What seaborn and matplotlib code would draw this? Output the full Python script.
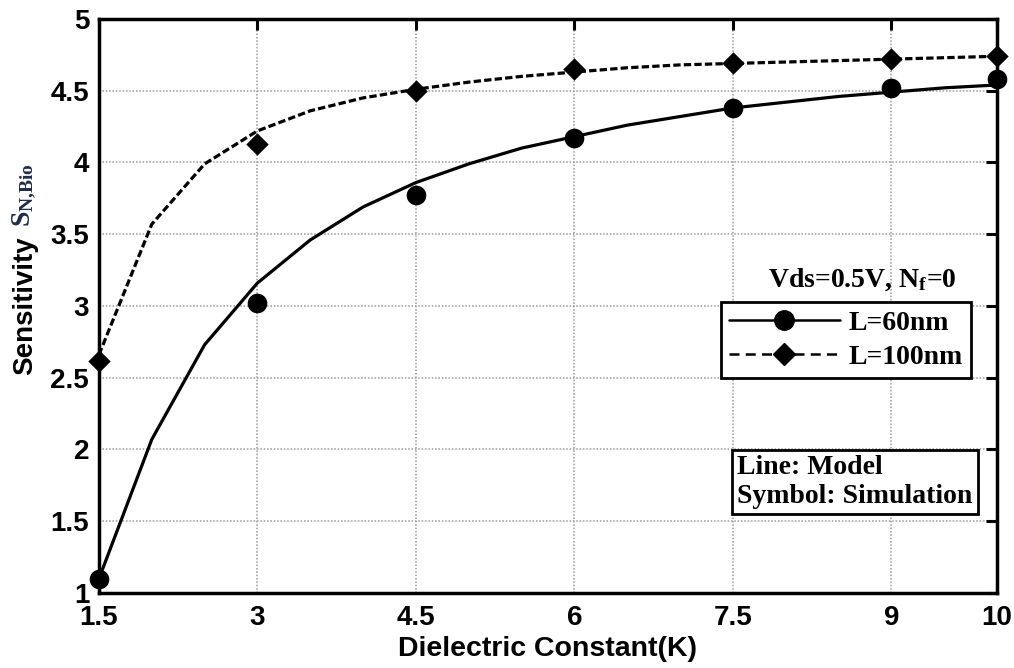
import numpy as np
import pandas as pd
import matplotlib
matplotlib.use("Agg")
import matplotlib.pyplot as plt
from matplotlib.lines import Line2D
import seaborn as sns

# model curves (lines)
k_model = [1.5, 2, 2.5, 3, 3.5, 4, 4.5, 5, 5.5, 6, 6.5, 7, 7.5, 8, 8.5, 9, 9.5, 10]
model_60 = [1.10, 2.07, 2.73, 3.16, 3.46, 3.69, 3.86, 3.99, 4.10, 4.18,
            4.26, 4.32, 4.38, 4.42, 4.46, 4.49, 4.52, 4.54]
model_100 = [2.66, 3.57, 3.99, 4.22, 4.36, 4.45, 4.51, 4.56, 4.60, 4.63,
             4.66, 4.68, 4.69, 4.70, 4.71, 4.72, 4.73, 4.74]

# simulation points (symbols)
k_sim = [1.5, 3, 4.5, 6, 7.5, 9, 10]
sim_60 = [1.10, 3.02, 3.77, 4.17, 4.38, 4.52, 4.58]
sim_100 = [2.62, 4.13, 4.50, 4.65, 4.69, 4.72, 4.74]

xticks = [1.5, 3, 4.5, 6, 7.5, 9, 10]
xtick_labels = ["1.5", "3", "4.5", "6", "7.5", "9", "10"]
yticks = [1, 1.5, 2, 2.5, 3, 3.5, 4, 4.5, 5]
ytick_labels = ["1", "1.5", "2", "2.5", "3", "3.5", "4", "4.5", "5"]

sns.set_style("white")
plt.rcParams["font.family"] = ["Liberation Sans", "DejaVu Sans"]
plt.rcParams["font.weight"] = "bold"
plt.rcParams["text.color"] = "black"
plt.rcParams["axes.labelcolor"] = "black"
plt.rcParams["xtick.color"] = "black"
plt.rcParams["ytick.color"] = "black"
plt.rcParams["mathtext.fontset"] = "custom"
plt.rcParams["mathtext.rm"] = "Liberation Serif"
plt.rcParams["mathtext.bf"] = "Liberation Serif:bold"

df_model = pd.DataFrame({"K": k_model, "L60": model_60, "L100": model_100})
df_sim = pd.DataFrame({"K": k_sim, "L60": sim_60, "L100": sim_100})

fig = plt.figure(figsize=(10.14, 6.68), dpi=100)
ax = fig.add_axes([0.0976, 0.1123, 0.8856, 0.8593])

# model lines
sns.lineplot(data=df_model, x="K", y="L60", ax=ax, color="black", lw=2.3)
sns.lineplot(data=df_model, x="K", y="L100", ax=ax, color="black", lw=2.3)
ax.lines[-1].set_dashes((2.3, 1.0))
# simulation symbols
sns.scatterplot(data=df_sim, x="K", y="L60", ax=ax, color="black", marker="o",
                s=200, edgecolor="black", linewidth=0, zorder=5, clip_on=False)
sns.scatterplot(data=df_sim, x="K", y="L100", ax=ax, color="black", marker="D",
                s=130, edgecolor="black", linewidth=0, zorder=5, clip_on=False)

ax.set_xlim(1.5, 10)
ax.set_ylim(1, 5)
ax.set_xticks(xticks)
ax.set_xticklabels(xtick_labels)
ax.set_yticks(yticks)
ax.set_yticklabels(ytick_labels)
ax.tick_params(direction="in", length=8, width=2.2, labelsize=20,
               top=True, right=True)
ax.tick_params(axis="x", pad=9)
ax.tick_params(axis="y", pad=7)
for lab in ax.get_xticklabels() + ax.get_yticklabels():
    lab.set_fontweight("bold")
for sp in ax.spines.values():
    sp.set_linewidth(2.5)
    sp.set_color("black")
ax.grid(True, color="0.6", linestyle=(0, (1, 1.2)), linewidth=1.1)
ax.set_axisbelow(True)

ax.set_xlabel("Dielectric Constant(K)", fontsize=20.5, fontweight="bold", labelpad=3)
ax.set_ylabel("Sensitivity", fontsize=20, fontweight="bold")
ax.yaxis.set_label_coords(-0.068, 0.50)
ax.text(-0.068, 0.693, r"$\mathrm{S_{N{,}Bio}}$", transform=ax.transAxes,
        rotation=90, ha="right", va="center", fontsize=20, color="#1f2d4a")

handles = [
    Line2D([], [], color="black", lw=1.8, marker="o", markersize=14),
    Line2D([], [], color="black", lw=1.8, linestyle=(0, (4, 2.5)), marker="D", markersize=11),
]
leg = ax.legend(handles, ["L=60nm", "L=100nm"], loc="upper right",
                bbox_to_anchor=(0.971, 0.507), handlelength=4.0,
                prop={"family": "Liberation Serif", "weight": "bold", "size": 20},
                fancybox=False, framealpha=1, edgecolor="black",
                borderpad=0.3, labelspacing=0.3, handletextpad=0.3,
                borderaxespad=0)
leg.get_frame().set_linewidth(2)

ax.text(0.85, 0.545, r"Vds=0.5V, N$\mathbf{_f}$=0", transform=ax.transAxes,
        ha="center", va="center", family="Liberation Serif",
        fontweight="bold", fontsize=20)

ax.text(0.711, 0.240, "Line: Model\nSymbol: Simulation", transform=ax.transAxes,
        ha="left", va="top", family="Liberation Serif", fontweight="bold",
        fontsize=20, linespacing=1.2,
        bbox=dict(boxstyle="square,pad=0.18", fc="white", ec="black", lw=2))

fig.savefig("out.png", dpi=100)
